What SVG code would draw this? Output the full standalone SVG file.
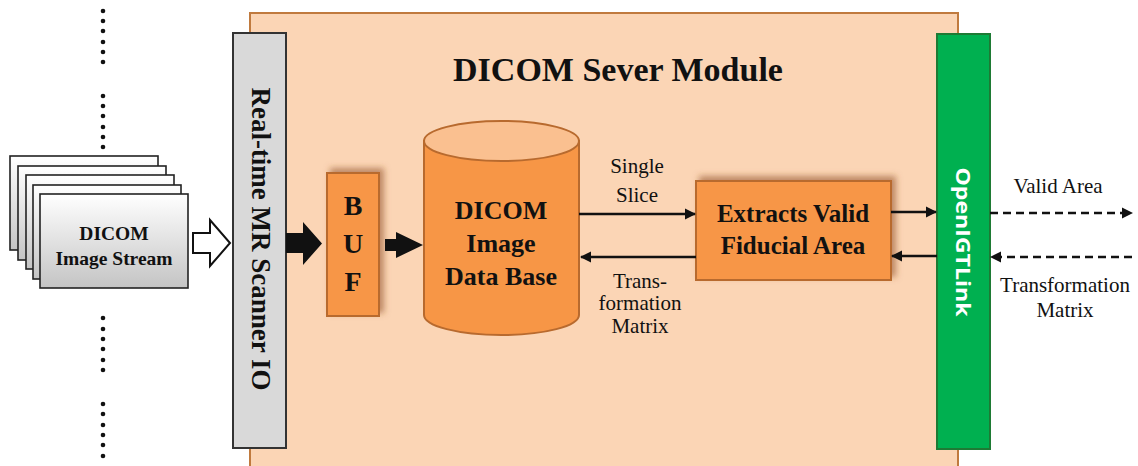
<svg xmlns="http://www.w3.org/2000/svg" width="1138" height="466" viewBox="0 0 1138 466">
<style>
.serif{font-family:"Liberation Serif","Times New Roman",serif;fill:#111}
.b{font-weight:bold}
.lbl{font-size:21px;text-anchor:middle}
.orange{fill:#F79646;stroke:#B86A2E;stroke-width:2}
.card{fill:url(#cardg);stroke:#222;stroke-width:1.6}
.dot{fill:#111}
.ln{stroke:#111;stroke-width:2.5;fill:none}
.dash{stroke:#111;stroke-width:2.5;fill:none;stroke-dasharray:8 5}
</style>
<defs>
<linearGradient id="cardg" x1="0" y1="0" x2="0" y2="1">
<stop offset="0" stop-color="#ffffff"/>
<stop offset="1" stop-color="#c4c4c4"/>
</linearGradient>
<filter id="sh" x="-30%" y="-30%" width="160%" height="160%">
<feDropShadow dx="4" dy="-4" stdDeviation="3" flood-color="#8a4a1a" flood-opacity="0.55"/>
</filter>
<marker id="ah" viewBox="0 0 10 10" refX="9" refY="5" markerWidth="4.5" markerHeight="4.5" orient="auto-start-reverse">
<path d="M0,0 L10,5 L0,10 z" fill="#111"/>
</marker>
</defs>

<g id="dots">
<g class="dot">
<circle cx="103" cy="11" r="2.3"/><circle cx="103" cy="21" r="2.3"/><circle cx="103" cy="31" r="2.3"/><circle cx="103" cy="42" r="2.3"/><circle cx="103" cy="52" r="2.3"/><circle cx="103" cy="62" r="2.3"/>
<circle cx="103" cy="96" r="2.3"/><circle cx="103" cy="106" r="2.3"/><circle cx="103" cy="116" r="2.3"/><circle cx="103" cy="127" r="2.3"/><circle cx="103" cy="137" r="2.3"/><circle cx="103" cy="147" r="2.3"/>
<circle cx="103" cy="318" r="2.3"/><circle cx="103" cy="329" r="2.3"/><circle cx="103" cy="339" r="2.3"/><circle cx="103" cy="349" r="2.3"/><circle cx="103" cy="360" r="2.3"/><circle cx="103" cy="370" r="2.3"/>
<circle cx="103" cy="404" r="2.3"/><circle cx="103" cy="414" r="2.3"/><circle cx="103" cy="425" r="2.3"/><circle cx="103" cy="435" r="2.3"/><circle cx="103" cy="445" r="2.3"/><circle cx="103" cy="456" r="2.3"/>
</g>
</g>

<g id="panel">
<rect x="250" y="13" width="708" height="470" fill="#FBD5B5" stroke="#C07A3E" stroke-width="2"/>
<text class="serif b" x="618" y="81" font-size="34" text-anchor="middle">DICOM Sever Module</text>
</g>

<g id="image-stream">
<rect class="card" x="10" y="156" width="148" height="94"/>
<rect class="card" x="18" y="166" width="148" height="94"/>
<rect class="card" x="26" y="175" width="148" height="94"/>
<rect class="card" x="33" y="185" width="148" height="94"/>
<rect class="card" x="40" y="194" width="148" height="94"/>
<text class="serif b" x="114" y="240" font-size="19.5" text-anchor="middle">DICOM</text>
<text class="serif b" x="114" y="265" font-size="19.5" text-anchor="middle">Image Stream</text>
</g>

<g id="scanner-io">
<rect x="233" y="33" width="53" height="415" fill="#D9D9D9" stroke="#333" stroke-width="2"/>
<text class="serif b" x="0" y="0" font-size="27" text-anchor="middle" dominant-baseline="central" transform="translate(261,239) rotate(90)">Real-time MR Scanner IO</text>
</g>

<g id="buf">
<rect class="orange" x="327" y="173" width="52" height="143" filter="url(#sh)"/>
<text class="serif b" x="353" y="215" font-size="28" text-anchor="middle">B</text>
<text class="serif b" x="353" y="253" font-size="28" text-anchor="middle">U</text>
<text class="serif b" x="353" y="291" font-size="28" text-anchor="middle">F</text>
</g>

<g id="database">
<path d="M424,141 L424,315 A77.5,20 0 0 0 579,315 L579,141 Z" fill="#F79646" stroke="#B86A2E" stroke-width="2"/>
<ellipse cx="501.5" cy="141" rx="77.5" ry="20" fill="#FAC090" stroke="#B86A2E" stroke-width="2"/>
<text class="serif b" x="501" y="219" font-size="26" text-anchor="middle">DICOM</text>
<text class="serif b" x="501" y="252" font-size="26" text-anchor="middle">Image</text>
<text class="serif b" x="501" y="285" font-size="26" text-anchor="middle">Data Base</text>
</g>

<g id="extract">
<rect class="orange" x="696" y="181" width="195" height="99" filter="url(#sh)"/>
<text class="serif b" x="793" y="222" font-size="25" text-anchor="middle">Extracts Valid</text>
<text class="serif b" x="793" y="254" font-size="25" text-anchor="middle">Fiducial Area</text>
</g>

<g id="openigtlink">
<rect x="937" y="34" width="53" height="415" fill="#00B050" stroke="#1E7A34" stroke-width="2"/>
<text x="0" y="0" font-family="'Open Sans','Liberation Sans',sans-serif" font-weight="bold" font-size="20" fill="#fff" text-anchor="middle" dominant-baseline="central" textLength="149" lengthAdjust="spacingAndGlyphs" transform="translate(963,242) rotate(90)">OpenIGTLink</text>
</g>

<g id="connectors">
<path d="M193,233 L210,233 L210,220 L230,243 L210,266 L210,253 L193,253 Z" fill="#fff" stroke="#111" stroke-width="2"/>
<path d="M286,233 L303,233 L303,222 L322,243.5 L303,265 L303,253 L286,253 Z" fill="#111"/>
<path d="M385,239 L396,239 L396,232 L423,245 L396,258 L396,251 L385,251 Z" fill="#111"/>
<line class="ln" x1="579" y1="214" x2="695" y2="214" marker-end="url(#ah)"/>
<line class="ln" x1="696" y1="257" x2="581" y2="257" marker-end="url(#ah)"/>
<line class="ln" x1="891" y1="212" x2="936" y2="212" marker-end="url(#ah)"/>
<line class="ln" x1="937" y1="256" x2="892" y2="256" marker-end="url(#ah)"/>
<line class="dash" x1="990" y1="213" x2="1132" y2="213" marker-end="url(#ah)"/>
<line class="dash" x1="1132" y1="257" x2="991" y2="257" marker-end="url(#ah)"/>
</g>

<g id="labels">
<text class="serif lbl" x="637" y="173">Single</text>
<text class="serif lbl" x="637" y="202">Slice</text>
<text class="serif lbl" x="640" y="288">Trans-</text>
<text class="serif lbl" x="640" y="310">formation</text>
<text class="serif lbl" x="640" y="333">Matrix</text>
<text class="serif lbl" x="1058" y="193">Valid Area</text>
<text class="serif lbl" x="1065" y="292">Transformation</text>
<text class="serif lbl" x="1065" y="317">Matrix</text>
</g>
</svg>
